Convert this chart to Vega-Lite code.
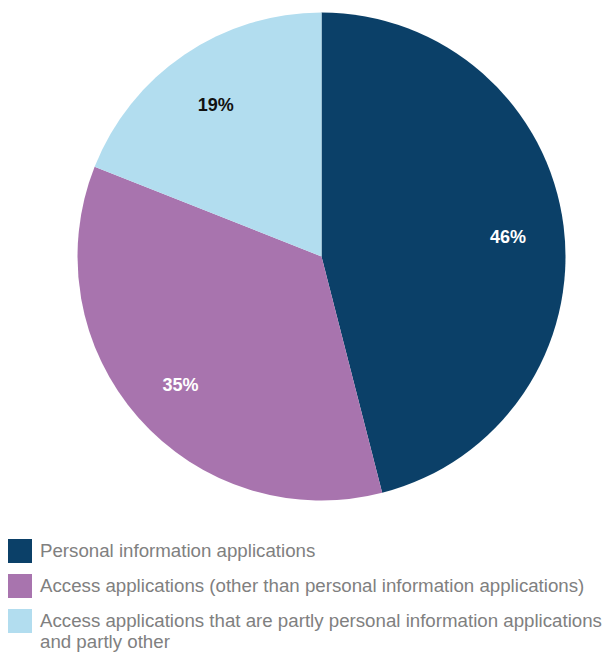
{
  "$schema": "https://vega.github.io/schema/vega-lite/v6.json",
  "autosize": "none",
  "padding": {"left": 0, "top": 0, "right": 0, "bottom": 141},
  "width": 643,
  "height": 513,
  "background": "white",
  "config": {"view": {"stroke": null}},
  "data": {
    "values": [
      {"category": "Personal information applications", "value": 46, "label": "46%", "order": 1},
      {"category": "Access applications (other than personal information applications)", "value": 35, "label": "35%", "order": 2},
      {"category": "Access applications that are partly personal information applications and partly other", "value": 19, "label": "19%", "order": 3}
    ]
  },
  "encoding": {
    "theta": {"field": "value", "type": "quantitative", "stack": true},
    "order": {"field": "order", "type": "quantitative"}
  },
  "layer": [
    {
      "mark": {"type": "arc", "outerRadius": 244},
      "encoding": {
        "color": {
          "field": "category",
          "type": "nominal",
          "scale": {
            "domain": [
              "Personal information applications",
              "Access applications (other than personal information applications)",
              "Access applications that are partly personal information applications and partly other"
            ],
            "range": ["#0b4068", "#a874ae", "#b2ddef"]
          },
          "legend": {
            "title": null,
            "orient": "none",
            "legendX": 8,
            "legendY": 539,
            "symbolType": "square",
            "symbolSize": 576,
            "symbolStrokeWidth": 0,
            "labelFont": "Liberation Sans",
            "labelFontSize": 18.7,
            "labelColor": "#808080",
            "labelLimit": 620,
            "labelOffset": 8,
            "rowPadding": 11,
            "labelLineHeight": 26,
            "labelExpr": "indexof(datum.label, 'partly other') > 0 ? ['Access applications that are partly personal information applications', 'and partly other'] : datum.label"
          }
        }
      }
    },
    {
      "mark": {"type": "text", "radius": 188, "dy": 5, "font": "Liberation Sans", "fontWeight": "bold", "fontSize": 18},
      "encoding": {
        "text": {"field": "label"},
        "color": {
          "condition": {"test": "datum.order == 3", "value": "#111111"},
          "value": "white"
        }
      }
    }
  ]
}
